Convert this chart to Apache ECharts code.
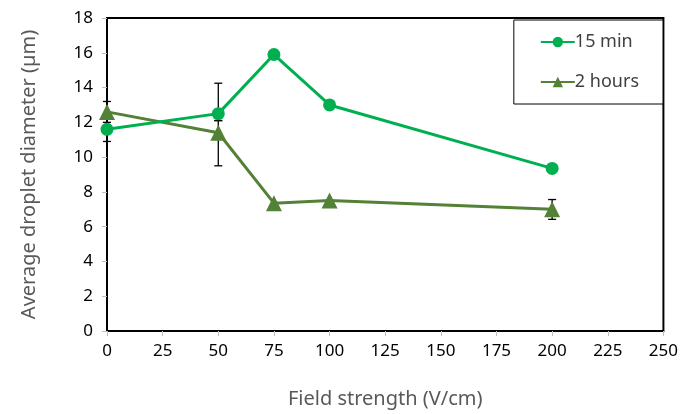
<!DOCTYPE html>
<html>
<head>
<meta charset="utf-8">
<script src="https://cdn.jsdelivr.net/npm/echarts@6/dist/echarts.min.js"></script>
<style>
  html, body { margin: 0; height: 100%; background: #fff; }
  #chart { width: 681px; height: 414px; }
</style>
</head>
<body>
<div id="chart"></div>
<script>
  // field strength (V/cm)
  const fieldStrength = [0, 50, 75, 100, 200];
  // droplet diameter (µm)
  const min15 = [11.6, 12.5, 15.9, 13.0, 9.35];
  const hours2 = [12.6, 11.4, 7.35, 7.5, 7.0];
  // error bar ends (null = no bar)
  const min15Low = [10.9, 12.1, null, null, null];
  const min15High = [12.3, 14.25, null, null, null];
  const hours2Low = [12.0, 9.5, null, null, 6.42];
  const hours2High = [13.2, 12.1, null, null, 7.56];

  const green = '#00b050';
  const olive = '#538135';

  const pairs = (xs, ys) => xs.map((x, i) => [x, ys[i]]);
  const errData = (lo, hi) => fieldStrength
    .map((x, i) => [x, lo[i], hi[i]])
    .filter(d => d[1] != null);

  function errRender(params, api) {
    const x = api.value(0);
    const lo = api.coord([x, api.value(1)]);
    const hi = api.coord([x, api.value(2)]);
    const w = 4;
    const st = { stroke: '#000', lineWidth: 1.3 };
    return {
      type: 'group',
      children: [
        { type: 'line', shape: { x1: lo[0], y1: lo[1], x2: hi[0], y2: hi[1] }, style: st },
        { type: 'line', shape: { x1: lo[0] - w, y1: lo[1], x2: lo[0] + w, y2: lo[1] }, style: st },
        { type: 'line', shape: { x1: hi[0] - w, y1: hi[1], x2: hi[0] + w, y2: hi[1] }, style: st }
      ]
    };
  }

  const font = '"Noto Sans", sans-serif';
  const chart = echarts.init(document.getElementById('chart'), null, { renderer: 'canvas' });

  const option = {
    animation: false,
    textStyle: { fontFamily: font },
    grid: {
      left: 107, right: 15, top: 18, bottom: 81,
      show: true, borderColor: '#000', borderWidth: 2, backgroundColor: 'transparent'
    },
    legend: {
      orient: 'vertical',
      right: 18, top: 20,
      padding: [13, 24, 13, 26],
      itemGap: 22,
      itemWidth: 34, itemHeight: 13,
      borderColor: '#000', borderWidth: 1,
      backgroundColor: '#fff',
      textStyle: { fontFamily: font, fontSize: 18, color: '#404040', padding: [0, 0, 0, -5] },
      data: ['15 min', '2 hours']
    },
    xAxis: {
      type: 'value', min: 0, max: 250, interval: 25,
      name: 'Field strength (V/cm)', nameLocation: 'middle', nameGap: 58,
      nameTextStyle: { fontFamily: font, fontSize: 20, color: '#595959' },
      axisLine: { show: false },
      axisTick: { show: true, length: 5, lineStyle: { color: '#bfbfbf' } },
      axisLabel: { fontFamily: font, fontSize: 17, color: '#000', margin: 12 },
      splitLine: { show: false }
    },
    yAxis: {
      type: 'value', min: 0, max: 18, interval: 2,
      name: 'Average droplet diameter (µm)', nameLocation: 'middle', nameGap: 68,
      nameTextStyle: { fontFamily: font, fontSize: 20, color: '#595959' },
      axisLine: { show: false },
      axisTick: { show: true, length: 5, lineStyle: { color: '#bfbfbf' } },
      axisLabel: { fontFamily: font, fontSize: 17, color: '#000', margin: 14 },
      splitLine: { show: false }
    },
    series: [
      {
        type: 'custom', name: 'err15', renderItem: errRender,
        data: errData(min15Low, min15High), z: 1, silent: true
      },
      {
        type: 'custom', name: 'err2h', renderItem: errRender,
        data: errData(hours2Low, hours2High), z: 1, silent: true
      },
      {
        name: '15 min', type: 'line', data: pairs(fieldStrength, min15),
        symbol: 'circle', symbolSize: 13, z: 3,
        lineStyle: { color: green, width: 3 },
        itemStyle: { color: green }
      },
      {
        name: '2 hours', type: 'line', data: pairs(fieldStrength, hours2),
        symbol: 'triangle', symbolSize: 16, z: 2,
        lineStyle: { color: olive, width: 3 },
        itemStyle: { color: olive }
      }
    ]
  };

  chart.setOption(option);
  window.addEventListener('resize', chart.resize);
</script>
</body>
</html>
